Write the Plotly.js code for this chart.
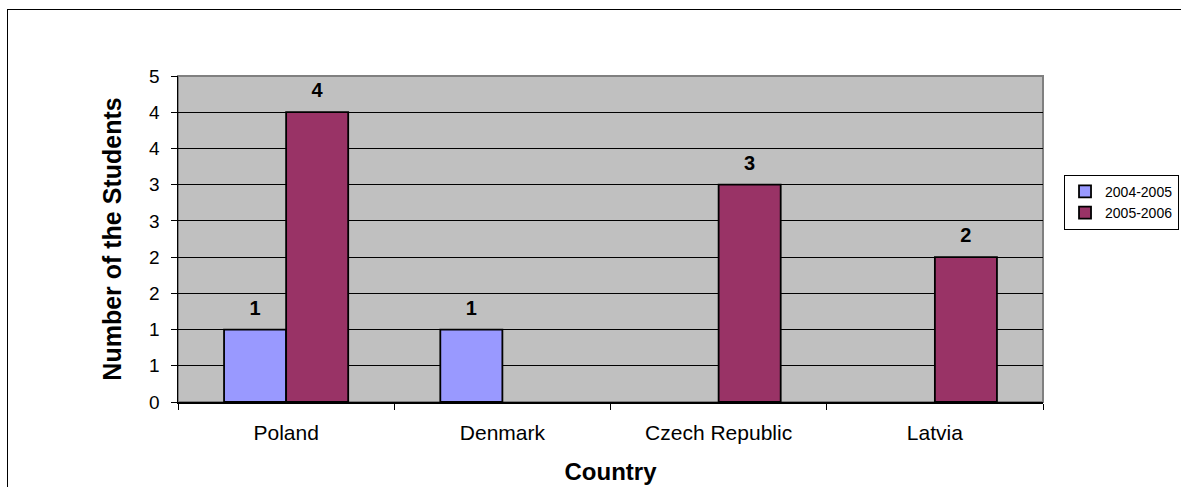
<!DOCTYPE html>
<html>
<head>
<meta charset="utf-8">
<script src="https://cdn.plot.ly/plotly-3.0.1.min.js"></script>
<style>
  html, body { margin: 0; padding: 0; background: #fff; overflow: hidden; }
  #frame { position: absolute; left: 7px; top: 9px; width: 1200px; height: 500px; border: 1px solid #000; box-sizing: border-box; pointer-events: none; z-index: 5; }
  #chart { position: absolute; left: 0; top: 0; width: 1181px; height: 487px; }
</style>
</head>
<body>
<div id="chart"></div>
<div id="frame"></div>
<script>
const countries = ["Poland", "Denmark", "Czech Republic", "Latvia"];
const series1Name = "2004-2005";
const series1 = [1, 1, null, null];
const series2Name = "2005-2006";
const series2 = [4, null, 3, 2];
const yTickVals = [0, 0.5, 1, 1.5, 2, 2.5, 3, 3.5, 4, 4.5];
const yTickText = ["0", "1", "1", "2", "2", "3", "3", "4", "4", "5"];

const font = "Liberation Sans, Arial, sans-serif";
const labelFont = { family: font, size: 20, color: "#000", weight: "bold" };

function labels(arr) { return arr.map(v => v == null ? "" : String(v)); }

const traces = [
  {
    type: "bar", name: series1Name, x: countries, y: series1,
    marker: { color: "#9999FF", line: { color: "#000", width: 1.8 } }
  },
  {
    type: "bar", name: series2Name, x: countries, y: series2,
    marker: { color: "#993366", line: { color: "#000", width: 1.8 } }
  },
  {
    type: "scatter", mode: "text+markers", x: countries, y: series1, showlegend: false,
    marker: { size: 14, color: "rgba(0,0,0,0)" },
    text: labels(series1), textposition: "top center", textfont: labelFont, cliponaxis: false
  },
  {
    type: "scatter", mode: "text+markers", x: countries, y: series2, showlegend: false,
    marker: { size: 14, color: "rgba(0,0,0,0)" },
    text: labels(series2), textposition: "top center", textfont: labelFont, cliponaxis: false
  }
];

const layout = {
  width: 1181, height: 487,
  margin: { l: 178, r: 138, t: 76, b: 85, autoexpand: false },
  paper_bgcolor: "#fff",
  plot_bgcolor: "#C0C0C0",
  barmode: "group",
  bargap: 0.426,
  bargroupgap: 0,
  scattermode: "group",
  scattergap: 0.426,
  font: { family: font, size: 18, color: "#000" },
  showlegend: true,
  legend: {
    x: 1.0243, y: 0.697, xanchor: "left", yanchor: "top",
    bordercolor: "#000", borderwidth: 1, bgcolor: "#fff",
    font: { family: font, size: 14, color: "#000" },
    itemwidth: 30
  },
  xaxis: {
    type: "category",
    tickson: "boundaries",
    ticks: "outside", ticklen: 6, tickcolor: "#000", tickwidth: 1,
    ticklabelstandoff: 11,
    showline: true, linecolor: "#000", linewidth: 1.5,
    showgrid: false, zeroline: false,
    tickfont: { family: font, size: 21, color: "#000" },
    title: { text: "Country", font: { family: font, size: 24, color: "#000", weight: "bold" }, standoff: 20 },
    automargin: false
  },
  yaxis: {
    range: [0, 4.5],
    tickmode: "array", tickvals: yTickVals, ticktext: yTickText,
    ticks: "outside", ticklen: 6, tickcolor: "#000", tickwidth: 1,
    ticklabelstandoff: 7,
    showline: true, linecolor: "#000", linewidth: 1.5,
    showgrid: true, gridcolor: "#000", gridwidth: 1,
    zeroline: false,
    tickfont: { family: font, size: 19, color: "#000" },
    title: { text: "Number of the Students", font: { family: font, size: 25, color: "#000", weight: "bold" }, standoff: 20 },
    automargin: false
  },
  shapes: [
    { type: "rect", xref: "paper", yref: "paper", x0: 0, x1: 1, y0: 0, y1: 1,
      line: { color: "#808080", width: 2 }, fillcolor: "rgba(0,0,0,0)", layer: "below" }
  ]
};

Plotly.newPlot("chart", traces, layout, { displayModeBar: false, staticPlot: true });
</script>
</body>
</html>
